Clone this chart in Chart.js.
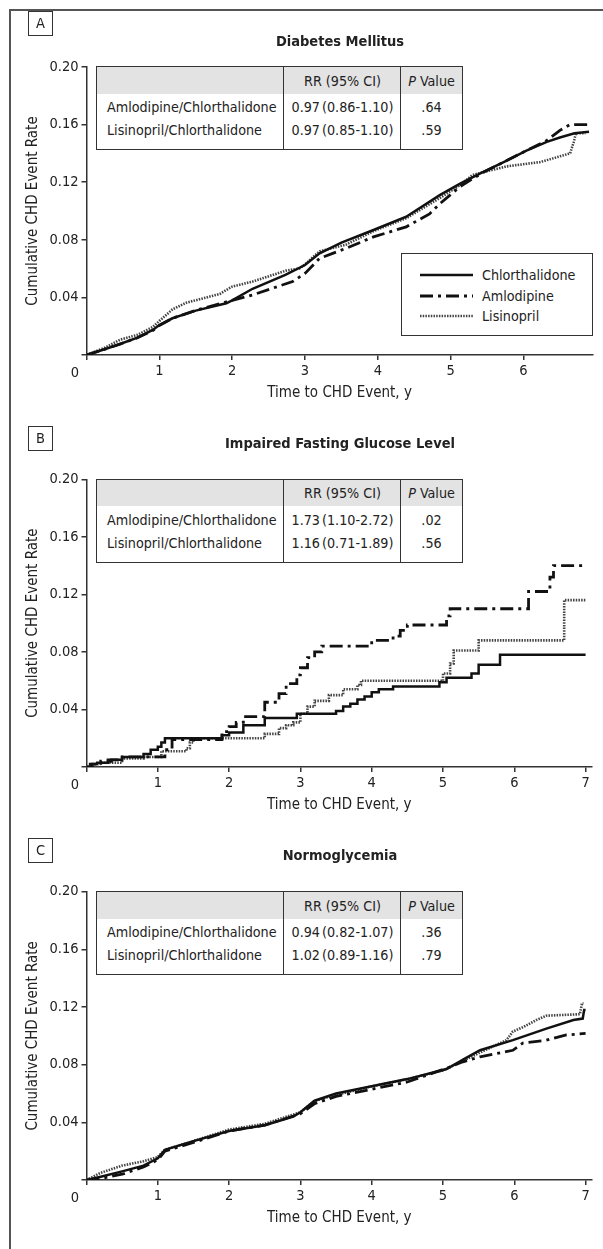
<!DOCTYPE html>
<html>
<head>
<meta charset="utf-8">
<script src="https://cdn.jsdelivr.net/npm/chart.js@4.4.1/dist/chart.umd.min.js"></script>
<style>
    body {margin: 0; background: #fff;}
    #page {position: relative; width: 603px; height: 1249px; overflow: hidden; background: #fff;
        font-family: "DejaVu Sans Condensed", "Liberation Sans", sans-serif; color: #222;}
    .frameTop {position: absolute; left: 9px; top: 9px; width: 594px; height: 2px; background: #555;}
    .frameLeft {position: absolute; left: 9px; top: 9px; width: 2px; height: 1240px; background: #555;}
    canvas {position: absolute; left: 0;}
    .tag {position: absolute; left: 28px; width: 23px; height: 23px; border: 1px solid #333;
        font-size: 14.5px; line-height: 23px; text-align: center;}
    .title {position: absolute; left: 190px; width: 300px; text-align: center; font-weight: bold;
        font-size: 14.5px; line-height: 18px;}
    .tbl {position: absolute; left: 96px; width: 367px; border: 1px solid #333; box-sizing: border-box;
        background: #fff; font-size: 14.2px;}
    .tbl .hd {position: absolute; left: 0; top: 0; right: 0; background: #e3e3e3;}
    .tbl .vl {position: absolute; top: 0; bottom: 0; width: 1px; background: #333;}
    .tbl .c {position: absolute; line-height: 18px; white-space: nowrap;}
    .num {word-spacing: -2px;}
    .legend {position: absolute; left: 401px; width: 192px; height: 83px;
        border: 1px solid #333; box-sizing: border-box; background: #fff; font-size: 14.2px;}
    .legend .row {position: absolute; left: 18px; height: 18px; line-height: 18px;}
    .legend svg {position: absolute; left: 0; top: 0;}
    .legend span {position: absolute; left: 62px; white-space: nowrap;}
    .origin {position: absolute; left: 69px; width: 12px; text-align: center; font-size: 14.5px; line-height: 18px;}
</style>
</head>
<body>
<div id="page">
    <div class="frameTop"></div>
    <div class="frameLeft"></div>
</div>
<script>
/* ============ Data ============ */
const seriesNames = ["Chlorthalidone", "Amlodipine", "Lisinopril"];
const comparisons = ["Amlodipine/Chlorthalidone", "Lisinopril/Chlorthalidone"];

// A: diabetes mellitus
const dmChlorT = [0, 0.25, 0.46, 0.7, 0.91, 1.0, 1.18, 1.5, 1.92, 2.0, 2.28, 2.73, 3.0, 3.2, 3.5, 3.94, 4.39, 4.85, 5.13, 5.4, 5.77, 6.04, 6.32, 6.5, 6.7, 6.9];
const dmChlorY = [0, 0.004, 0.0076, 0.012, 0.0174, 0.0208, 0.0255, 0.0308, 0.0359, 0.038, 0.046, 0.0556, 0.0625, 0.0706, 0.078, 0.0868, 0.096, 0.111, 0.119, 0.126, 0.135, 0.142, 0.148, 0.151, 0.154, 0.155];
const dmAmloT = [0, 0.25, 0.46, 0.7, 0.91, 1.0, 1.18, 1.5, 2.0, 2.28, 2.55, 2.83, 3.0, 3.2, 3.38, 3.56, 3.94, 4.39, 4.71, 4.85, 5.13, 5.45, 5.77, 6.04, 6.32, 6.5, 6.64, 6.9];
const dmAmloY = [0, 0.004, 0.0076, 0.012, 0.017, 0.0205, 0.0255, 0.031, 0.038, 0.0417, 0.0463, 0.051, 0.0567, 0.0671, 0.0706, 0.074, 0.082, 0.089, 0.098, 0.105, 0.117, 0.127, 0.135, 0.142, 0.149, 0.156, 0.160, 0.160];
const dmLisiT = [0, 0.25, 0.46, 0.7, 0.91, 1.0, 1.18, 1.37, 1.83, 2.0, 2.28, 2.74, 2.92, 3.0, 3.2, 3.56, 3.94, 4.39, 4.85, 5.13, 5.3, 5.45, 5.77, 6.23, 6.64, 6.69, 6.72, 6.85];
const dmLisiY = [0, 0.005, 0.0106, 0.014, 0.0194, 0.0236, 0.0317, 0.0363, 0.0424, 0.0475, 0.051, 0.0586, 0.060, 0.063, 0.072, 0.0766, 0.086, 0.095, 0.109, 0.118, 0.125, 0.127, 0.131, 0.134, 0.140, 0.148, 0.154, 0.154];
const dmRR = ["0.97 (0.86-1.10)", "0.97 (0.85-1.10)"];
const dmP = [".64", ".59"];

// B: impaired fasting glucose level
const ifgChlorT = [0, 0.05, 0.15, 0.3, 0.5, 0.8, 0.9, 1.0, 1.05, 1.1, 1.9, 2.0, 2.2, 2.5, 2.95, 3.5, 3.6, 3.7, 3.8, 3.9, 4.0, 4.1, 4.3, 4.95, 5.05, 5.4, 5.5, 5.8, 7.0];
const ifgChlorY = [0, 0.002, 0.003, 0.005, 0.007, 0.009, 0.012, 0.014, 0.017, 0.020, 0.022, 0.024, 0.029, 0.034, 0.037, 0.039, 0.042, 0.044, 0.047, 0.049, 0.052, 0.054, 0.056, 0.059, 0.062, 0.065, 0.071, 0.078, 0.078];
const ifgAmloT = [0, 0.08, 0.2, 0.35, 0.5, 1.1, 1.2, 1.9, 2.0, 2.1, 2.2, 2.5, 2.7, 2.8, 2.95, 3.0, 3.1, 3.2, 3.3, 4.0, 4.3, 4.4, 4.5, 5.05, 5.1, 6.2, 6.5, 6.55, 7.0];
const ifgAmloY = [0, 0.002, 0.004, 0.005, 0.007, 0.012, 0.019, 0.0246, 0.028, 0.031, 0.035, 0.045, 0.051, 0.058, 0.064, 0.069, 0.076, 0.080, 0.084, 0.088, 0.091, 0.095, 0.0987, 0.105, 0.110, 0.122, 0.132, 0.140, 0.140];
const ifgLisiT = [0, 0.2, 0.5, 0.8, 1.05, 1.4, 1.45, 1.5, 1.6, 2.5, 2.7, 2.8, 2.9, 3.0, 3.1, 3.2, 3.4, 3.6, 3.8, 3.85, 5.0, 5.1, 5.15, 5.5, 6.7, 7.0];
const ifgLisiY = [0, 0.003, 0.006, 0.007, 0.011, 0.013, 0.017, 0.019, 0.020, 0.023, 0.027, 0.029, 0.031, 0.037, 0.042, 0.046, 0.050, 0.054, 0.057, 0.060, 0.065, 0.072, 0.081, 0.088, 0.116, 0.116];
const ifgRR = ["1.73 (1.10-2.72)", "1.16 (0.71-1.89)"];
const ifgP = [".02", ".56"];

// C: normoglycemia
const ngChlorT = [0, 0.2, 0.5, 0.8, 1.0, 1.1, 1.5, 2.0, 2.5, 2.9, 3.0, 3.2, 3.5, 4.0, 4.5, 5.05, 5.3, 5.52, 5.98, 6.45, 6.83, 6.96, 6.98, 7.0];
const ngChlorY = [0, 0.0023, 0.006, 0.010, 0.015, 0.021, 0.027, 0.034, 0.038, 0.044, 0.047, 0.055, 0.060, 0.065, 0.070, 0.077, 0.084, 0.090, 0.097, 0.105, 0.111, 0.112, 0.118, 0.118];
const ngAmloT = [0, 0.2, 0.5, 0.8, 1.0, 1.1, 1.5, 2.0, 2.5, 3.0, 3.2, 3.5, 4.0, 4.5, 5.05, 5.28, 5.52, 5.98, 6.12, 6.45, 6.73, 7.0];
const ngAmloY = [0, 0.001, 0.004, 0.009, 0.014, 0.020, 0.026, 0.034, 0.038, 0.046, 0.053, 0.058, 0.063, 0.068, 0.0775, 0.082, 0.0855, 0.090, 0.095, 0.097, 0.1006, 0.1017];
const ngLisiT = [0, 0.2, 0.5, 0.8, 1.0, 1.1, 1.5, 2.0, 2.5, 3.0, 3.2, 3.5, 4.0, 4.5, 5.0, 5.5, 5.89, 5.98, 6.12, 6.31, 6.45, 6.92, 6.95, 6.97];
const ngLisiY = [0, 0.005, 0.010, 0.013, 0.016, 0.021, 0.027, 0.035, 0.039, 0.047, 0.055, 0.059, 0.065, 0.070, 0.076, 0.088, 0.097, 0.103, 0.106, 0.111, 0.114, 0.115, 0.1226, 0.1226];
const ngRR = ["0.94 (0.82-1.07)", "1.02 (0.89-1.16)"];
const ngP = [".36", ".79"];

/* ============ Styles ============ */
const FONT = "'DejaVu Sans Condensed', 'Liberation Sans', sans-serif";
const INK = "#222";
const LINE_STYLES = [
    {borderColor: "#111", borderWidth: 2.5, borderDash: []},
    {borderColor: "#111", borderWidth: 2.8, borderDash: [13, 5, 3, 5]},
    {borderColor: "#444", borderWidth: 2.6, borderDash: [1.5, 1.2]},
];

const PANELS = [
    {tag: "A", title: "Diabetes Mellitus", top: 0, h: 410, plotTop: 67, plotBottom: 355, xMax: 6.95, right: 592.7,
        tagTop: 23, titleY: 41, tblTop: 66, hdH: 27, stepped: false,
        series: [[dmChlorT, dmChlorY], [dmAmloT, dmAmloY], [dmLisiT, dmLisiY]], rr: dmRR, p: dmP, legend: true},
    {tag: "B", title: "Impaired Fasting Glucose Level", top: 410, h: 420, plotTop: 69.3, plotBottom: 357, xMax: 7.09, right: 592,
        tagTop: 28, titleY: 33, tblTop: 69, hdH: 26, stepped: true,
        series: [[ifgChlorT, ifgChlorY], [ifgAmloT, ifgAmloY], [ifgLisiT, ifgLisiY]], rr: ifgRR, p: ifgP},
    {tag: "C", title: "Normoglycemia", top: 830, h: 419, plotTop: 61.7, plotBottom: 350, xMax: 7.09, right: 592,
        tagTop: 20, titleY: 25, tblTop: 61, hdH: 27, stepped: false,
        series: [[ngChlorT, ngChlorY], [ngAmloT, ngAmloY], [ngLisiT, ngLisiY]], rr: ngRR, p: ngP},
];

/* ============ DOM helpers ============ */
const page = document.getElementById("page");

function el(cls, css, html) {
    const d = document.createElement("div");
    d.className = cls;
    Object.assign(d.style, css);
    if (html != null) d.innerHTML = html;
    return d;
}

function addTable(p) {
    const t = el("tbl", {top: (p.top + p.tblTop) + "px", height: "84px"});
    t.appendChild(el("hd", {height: p.hdH + "px"}));
    t.appendChild(el("vl", {left: "186px"}));
    t.appendChild(el("vl", {left: "303px"}));
    const hy = p.hdH / 2 - 9;
    t.appendChild(el("c", {left: "187px", width: "117px", top: hy + "px", textAlign: "center"}, "RR (95% CI)"));
    t.appendChild(el("c", {left: "304px", width: "61px", top: hy + "px", textAlign: "center"}, "<i>P</i> Value"));
    comparisons.forEach((name, i) => {
        const y = 40 + i * 22.5 - 9;
        t.appendChild(el("c", {left: "10px", top: y + "px"}, name));
        t.appendChild(el("c num", {left: "187px", width: "117px", top: y + "px", textAlign: "center"}, p.rr[i]));
        t.appendChild(el("c", {left: "304px", width: "61px", top: y + "px", textAlign: "center"}, p.p[i]));
    });
    page.appendChild(t);
}

function addLegend(p) {
    const box = el("legend", {top: (p.top + 253) + "px"});
    seriesNames.forEach((name, i) => {
        const s = LINE_STYLES[i];
        const row = el("row", {top: (12 + i * 20.5) + "px"});
        row.innerHTML = `<svg width="56" height="18"><line x1="0" y1="9" x2="53" y2="9" stroke="${s.borderColor}"
            stroke-width="${s.borderWidth}" stroke-dasharray="${s.borderDash.join(" ") || "none"}"/></svg><span>${name}</span>`;
        box.appendChild(row);
    });
    page.appendChild(box);
}

/* ============ Charts ============ */
function makeChart(p) {
    const canvas = document.createElement("canvas");
    canvas.width = 603;
    canvas.height = p.h;
    canvas.style.top = p.top + "px";
    page.appendChild(canvas);

    const datasets = p.series.map(([xs, ys], i) => ({
        label: seriesNames[i],
        data: xs.map((x, k) => ({x, y: ys[k]})),
        ...LINE_STYLES[i],
        stepped: p.stepped,
        pointRadius: 0,
        fill: false,
        tension: 0,
    }));

    const tickFont = {family: FONT, size: 14.5};
    const titleFont = {family: FONT, size: 15};
    new Chart(canvas, {
        type: "line",
        data: {datasets},
        options: {
            responsive: false,
            animation: false,
            devicePixelRatio: 1,
            layout: {padding: {left: 20.5, right: 603 - p.right, top: p.plotTop, bottom: p.h - p.plotBottom - 51}},
            plugins: {legend: {display: false}, tooltip: {enabled: false}},
            scales: {
                x: {
                    type: "linear", min: 0, max: p.xMax,
                    afterFit: s => { s.height = 51; },
                    ticks: {stepSize: 1, includeBounds: false, padding: 3, color: INK, font: tickFont,
                        maxRotation: 0, autoSkip: false, callback: v => (v === 0 ? "" : String(v))},
                    grid: {drawOnChartArea: false, tickLength: 5, color: "#333", lineWidth: 1.5},
                    border: {color: "#333", width: 1.5},
                    title: {display: true, text: "Time to CHD Event, y", color: INK, font: titleFont, padding: {top: 4, bottom: 4}},
                },
                y: {
                    min: 0, max: 0.2,
                    afterFit: s => { s.width = 66; },
                    ticks: {stepSize: 0.04, padding: 3, color: INK, font: tickFont,
                        callback: v => (v === 0 ? "" : v.toFixed(2))},
                    grid: {drawOnChartArea: false, tickLength: 5, color: "#333", lineWidth: 1.5},
                    border: {color: "#333", width: 1.5},
                    title: {display: true, text: "Cumulative CHD Event Rate", color: INK, font: titleFont, padding: {top: 4, bottom: 4}},
                },
            },
        },
    });
}

PANELS.forEach(p => {
    makeChart(p);
    page.appendChild(el("tag", {top: (p.top + p.tagTop - 12) + "px"}, p.tag));
    page.appendChild(el("title", {top: (p.top + p.titleY - 9) + "px"}, p.title));
    page.appendChild(el("origin", {top: (p.top + p.plotBottom + 8) + "px"}, "0"));
    addTable(p);
    if (p.legend) addLegend(p);
});
</script>
</body>
</html>
